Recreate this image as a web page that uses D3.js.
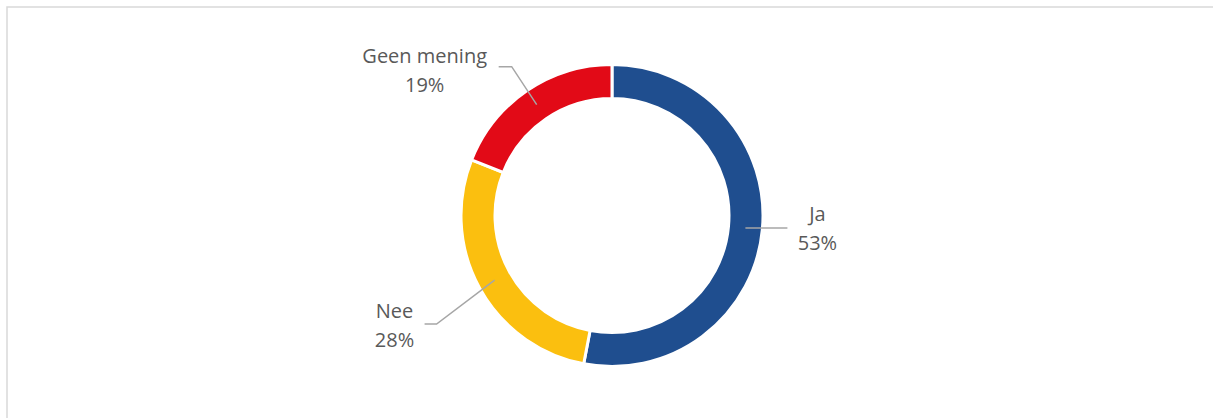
<!DOCTYPE html>
<html>
<head>
  <meta charset="utf-8">
  <title>donut</title>
  <script src="https://d3js.org/d3.v7.min.js"></script>
  <style>
    body { margin: 0; background: #fff; }
  </style>
</head>
<body>
<script>
// data
var categories = ["Ja", "Nee", "Geen mening"];
var percentages = [53, 28, 19];
var colors = ["#1f4e8f", "#fbbf0f", "#e20a17"];

// label layout: leader elbow and text centre, relative to the leader's start on the ring
var labelLayout = [
  { elbow: [42, 0],    end: [42, 0],    text: [72, -7] },
  { elbow: [-58, 44],  end: [-70, 44],  text: [-100, 38] },
  { elbow: [-25, -38], end: [-38, -38], text: [-112, -42] }
];

var width = 1213, height = 418;
var cx = 612, cy = 215.5;
var outerR = 151, innerR = 117;

var svg = d3.select("body").append("svg")
  .attr("width", width).attr("height", height);

// chart frame (only top and left edge visible)
svg.append("rect")
  .attr("x", 7).attr("y", 7)
  .attr("width", 1400).attr("height", 600)
  .attr("fill", "none")
  .attr("stroke", "#d9d9d9")
  .attr("stroke-width", 1.5);

var data = categories.map(function(c, i){
  return { name: c, value: percentages[i], color: colors[i], layout: labelLayout[i] };
});

var pie = d3.pie().sort(null).value(function(d){ return d.value; });

var arc = d3.arc().innerRadius(innerR).outerRadius(outerR);
var leaderArc = d3.arc().innerRadius(134).outerRadius(134);

var g = svg.append("g").attr("transform", "translate(" + cx + "," + cy + ")");

var slices = g.selectAll(".arc").data(pie(data)).enter().append("g").attr("class", "arc");

slices.append("path")
  .attr("d", arc)
  .attr("fill", function(d){ return d.data.color; })
  .attr("stroke", "#fff")
  .attr("stroke-width", 3)
  .attr("stroke-linejoin", "miter");

// leader lines
slices.append("polyline")
  .attr("points", function(d){
    var p = leaderArc.centroid(d), L = d.data.layout;
    return [p, [p[0] + L.elbow[0], p[1] + L.elbow[1]], [p[0] + L.end[0], p[1] + L.end[1]]]
      .map(function(q){ return q.join(","); }).join(" ");
  })
  .attr("fill", "none")
  .attr("stroke", "#a6a6a6")
  .attr("stroke-width", 1.5);

// labels
var txt = slices.append("text")
  .attr("transform", function(d){
    var p = leaderArc.centroid(d), L = d.data.layout;
    return "translate(" + (p[0] + L.text[0]) + "," + (p[1] + L.text[1]) + ")";
  })
  .attr("text-anchor", "middle")
  .style("font-family", "'Open Sans', sans-serif")
  .style("font-size", "20px")
  .attr("fill", "#595959");

txt.append("tspan").attr("x", 0).attr("y", 0).text(function(d){ return d.data.name; });
txt.append("tspan").attr("x", 0).attr("y", 29).text(function(d){ return d.data.value + "%"; });
</script>
</body>
</html>
